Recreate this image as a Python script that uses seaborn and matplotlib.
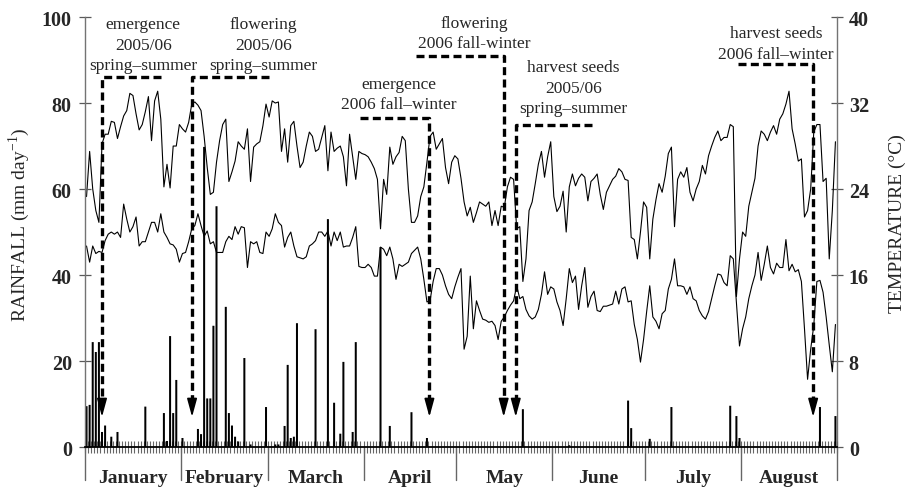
import numpy as np
import pandas as pd
import matplotlib
matplotlib.use('Agg')
import matplotlib.pyplot as plt
import seaborn as sns
from matplotlib.ticker import MultipleLocator

# data
months = ['January', 'February', 'March', 'April', 'May', 'June', 'July', 'August']
month_days = [31, 28, 31, 30, 31, 30, 31, 31]

rain_days = [0, 1, 2, 3, 4, 5, 6, 8, 10, 19, 25, 26, 27, 28, 29, 31, 36, 37, 38, 39,
             40, 41, 42, 45, 46, 47, 48, 49, 51, 53, 58, 61, 62, 64, 65, 66, 67, 68, 74, 78,
             80, 82, 83, 86, 87, 95, 98, 105, 110, 141, 156, 175, 176, 182, 189, 208, 210, 211, 237, 242]
rain_mm = [9.5, 9.8, 24.4, 22.1, 24.4, 3.5, 5.0, 2.4, 3.5, 9.4, 7.9, 1.4, 25.8, 7.9, 15.6, 2.1, 4.2, 3.0, 69.8, 11.3,
           11.3, 28.2, 56.0, 32.6, 7.9, 5.0, 2.4, 1.3, 20.7, 0.6, 9.3, 0.6, 0.6, 4.9, 19.1, 2.1, 2.4, 28.8, 27.4, 53.0,
           10.3, 3.1, 19.8, 3.5, 24.4, 46.5, 4.9, 8.1, 2.1, 8.8, 0.4, 10.8, 4.4, 1.9, 9.3, 9.6, 7.2, 2.1, 9.3, 7.2]

tmax = [23.3, 27.5, 24.0, 22.0, 20.9, 28.2, 29.1, 29.1, 30.3, 30.2,
        28.7, 29.8, 30.8, 31.3, 32.9, 32.7, 31.0, 29.5, 30.0, 31.2,
        32.6, 28.5, 32.2, 33.1, 30.5, 24.2, 26.3, 24.1, 28.0, 28.0,
        30.0, 29.6, 29.3, 30.2, 31.9, 32.1, 31.8, 31.3, 28.9, 26.0,
        23.5, 23.7, 26.5, 28.5, 30.0, 30.5, 24.7, 25.6, 26.6, 28.4,
        28.0, 27.7, 29.6, 24.7, 27.9, 28.2, 28.4, 29.9, 31.9, 30.7,
        32.2, 32.0, 32.1, 27.5, 29.6, 26.5, 29.9, 30.3, 28.0, 26.0,
        26.5, 28.0, 29.3, 28.9, 27.5, 27.7, 28.8, 29.9, 25.7, 29.3,
        27.5, 27.8, 28.0, 27.0, 24.3, 29.1, 27.0, 24.9, 27.5, 27.3,
        27.2, 27.0, 26.5, 25.9, 24.9, 20.3, 24.9, 23.5, 27.9, 26.3,
        27.0, 27.4, 28.9, 28.5, 24.0, 20.9, 20.9, 21.5, 23.3, 24.2,
        26.5, 28.9, 29.3, 27.7, 28.2, 28.7, 26.0, 24.5, 26.5, 27.1,
        26.8, 25.0, 22.8, 21.5, 22.3, 20.9, 21.8, 22.8, 22.6, 22.4,
        22.8, 20.6, 22.0, 20.6, 22.4, 22.3, 24.2, 25.1, 24.9, 20.3,
        20.5, 15.4, 17.5, 22.0, 22.8, 24.5, 26.3, 27.5, 25.1, 27.0,
        28.4, 23.3, 21.9, 22.4, 23.8, 20.0, 24.2, 25.4, 24.3, 25.0,
        25.4, 25.1, 22.9, 24.7, 25.0, 25.4, 23.5, 22.1, 23.7, 24.3,
        24.9, 25.2, 25.9, 25.6, 24.9, 24.8, 19.5, 19.3, 17.5, 20.0,
        22.8, 22.3, 17.5, 21.2, 23.0, 24.5, 23.7, 25.2, 27.3, 27.9,
        20.5, 24.9, 25.6, 25.1, 26.0, 23.7, 22.9, 24.0, 24.7, 26.2,
        25.4, 27.1, 28.0, 28.8, 29.4, 28.5, 28.8, 28.8, 30.0, 29.8,
        14.0, 17.5, 20.0, 19.6, 22.4, 23.7, 25.0, 28.0, 29.4, 29.1,
        28.5, 29.3, 29.9, 29.1, 30.5, 31.0, 31.9, 33.1, 29.6, 28.2,
        26.6, 26.8, 21.4, 22.0, 24.0, 29.3, 30.0, 30.0, 24.7, 25.0,
        17.5, 22.0, 28.4]

tmin = [18.7, 17.2, 18.7, 18.0, 18.2, 18.1, 19.2, 19.8, 20.0, 19.8,
        20.0, 19.5, 22.6, 21.2, 20.0, 20.5, 21.4, 18.7, 19.1, 19.1,
        20.0, 20.9, 20.9, 20.0, 21.7, 20.0, 19.5, 18.9, 18.8, 18.4,
        17.2, 18.0, 18.1, 19.1, 20.3, 20.6, 21.7, 20.6, 19.6, 20.1,
        18.9, 19.1, 18.1, 18.1, 18.1, 19.1, 19.6, 19.3, 20.5, 19.8,
        20.5, 20.4, 16.7, 19.1, 18.9, 19.1, 18.1, 18.0, 20.0, 19.6,
        20.3, 21.7, 20.9, 20.6, 18.6, 19.5, 20.0, 18.7, 17.7, 17.6,
        17.5, 17.7, 18.7, 18.9, 19.2, 20.0, 20.0, 19.6, 20.1, 18.7,
        20.0, 19.2, 20.0, 18.6, 18.7, 18.7, 19.5, 20.5, 16.8, 16.7,
        16.7, 17.0, 16.7, 15.9, 15.9, 18.6, 18.4, 17.8, 18.6, 17.5,
        15.6, 17.0, 16.8, 17.0, 17.2, 18.0, 18.3, 18.6, 17.5, 15.6,
        13.5, 13.6, 15.4, 16.6, 16.6, 16.0, 15.0, 14.2, 13.8, 14.9,
        15.8, 16.6, 9.1, 10.3, 15.9, 11.0, 13.6, 12.7, 11.9, 11.8,
        11.6, 11.7, 11.3, 10.0, 11.7, 12.1, 12.7, 13.2, 13.6, 15.0,
        13.8, 14.0, 12.8, 12.2, 11.9, 12.1, 12.8, 14.2, 16.3, 14.2,
        14.9, 14.7, 13.5, 12.7, 11.3, 13.8, 16.6, 15.3, 15.9, 12.8,
        15.0, 16.7, 13.0, 14.0, 14.5, 12.7, 12.6, 13.1, 13.1, 13.2,
        13.3, 14.5, 13.3, 14.7, 14.9, 13.5, 13.6, 11.4, 10.0, 7.9,
        10.0, 12.6, 15.0, 12.1, 11.7, 11.0, 12.4, 12.7, 14.7, 15.6,
        17.5, 15.0, 15.0, 14.9, 14.2, 14.9, 13.8, 13.6, 12.7, 12.2,
        11.9, 12.6, 13.8, 15.0, 16.1, 16.0, 15.3, 15.0, 17.8, 17.5,
        13.5, 9.4, 11.0, 12.1, 13.8, 15.0, 16.0, 18.1, 15.5, 17.0,
        18.7, 16.7, 16.1, 17.1, 16.7, 16.7, 19.3, 16.4, 17.0, 16.3,
        16.5, 15.4, 11.0, 6.3, 9.1, 11.3, 15.4, 15.5, 14.4, 12.1,
        9.5, 7.0, 11.4]

event_labels = ['emergence\n2005/06\nspring\u2013summer',
                'flowering\n2005/06\nspring\u2013summer',
                'emergence\n2006 fall\u2013winter',
                'flowering\n2006 fall-winter',
                'harvest seeds\n2005/06\nspring\u2013summer',
                'harvest seeds\n2006 fall\u2013winter']
event_days = [5.5, 34.6, 111.3, 135.3, 139.2, 235.3]

# layout of the event markers: other end of the horizontal bar, bar height, text x, text y
event_layout = [(24.6, 86.0, 18.8, 93.6),
                (59.5, 86.0, 57.6, 93.6),
                (89.0, 76.5, 101.3, 82.1),
                (107.1, 90.9, 125.9, 96.3),
                (163.8, 74.9, 157.9, 83.6),
                (211.0, 89.1, 223.3, 93.9)]

n_days = sum(month_days)
rain = np.zeros(n_days)
rain[rain_days] = rain_mm
df = pd.DataFrame({'day': np.arange(n_days) + 0.5, 'rain': rain, 'tmax': tmax, 'tmin': tmin})

sns.set_style('white')
plt.rcParams['font.family'] = ['Liberation Serif', 'DejaVu Serif']
plt.rcParams['mathtext.fontset'] = 'custom'
plt.rcParams['mathtext.rm'] = 'Liberation Serif'

fig = plt.figure(figsize=(9.07, 4.89), dpi=100)
ax = fig.add_axes([0.0937, 0.0838, 0.8291, 0.8793])
ax2 = ax.twinx()

# rainfall bars
sns.barplot(data=df, x='day', y='rain', native_scale=True, color='black', saturation=1,
            width=0.65, errorbar=None, linewidth=0, ax=ax)
for p in ax.patches:
    p.set_snap(False)

# temperature lines
sns.lineplot(data=df, x='day', y='tmax', color='black', lw=0.8, ax=ax2)
sns.lineplot(data=df, x='day', y='tmin', color='black', lw=0.8, ax=ax2)

ax.set_zorder(ax2.get_zorder() + 1)
ax.patch.set_visible(False)

ax.set_xlim(0, n_days)
ax.set_ylim(0, 100)
ax2.set_ylim(0, 40)
ax.set_xlabel('')
ax.set_ylabel('')
ax2.set_ylabel('')

# axes styling
for s in ['top', 'right']:
    ax.spines[s].set_visible(False)
for s in ['top', 'left', 'bottom']:
    ax2.spines[s].set_visible(False)
ax.spines['left'].set_color('0.45')
ax.spines['left'].set_linewidth(1.0)
ax2.spines['right'].set_color('0.45')
ax2.spines['right'].set_linewidth(1.0)
ax.spines['bottom'].set_color('black')
ax.spines['bottom'].set_linewidth(1.3)

ax.set_xticks([])
ax.xaxis.set_minor_locator(MultipleLocator(1))
ax.tick_params(axis='x', which='minor', direction='inout', length=8, width=0.8,
               color='0.4', bottom=True)

ax.set_yticks([0, 20, 40, 60, 80, 100])
ax2.set_yticks([0, 8, 16, 24, 32, 40])
ax.tick_params(axis='y', direction='inout', length=9, width=0.9, color='0.35',
               labelsize=14.5, pad=5, left=True)
ax2.tick_params(axis='y', direction='inout', length=9, width=0.9, color='0.35',
                labelsize=14.5, pad=4, right=True)
for lbl in ax.get_yticklabels() + ax2.get_yticklabels():
    lbl.set_fontweight('bold')

# month separators and names
edges = np.concatenate([[0], np.cumsum(month_days)])
for e in edges:
    ax.plot([e, e], [0, -7.6], color='0.4', lw=1.0, clip_on=False)
for i, name in enumerate(months):
    ax.text((edges[i] + edges[i + 1]) / 2, -7.2, name, ha='center', va='center',
            fontsize=14, fontweight='bold', clip_on=False)

# events: dashed bracket with arrow down to the axis
tip = 7.0
for label, d, (hx, hy, tx, ty) in zip(event_labels, event_days, event_layout):
    ax.plot([hx, d, d], [hy, hy, tip + 3.6], color='black', lw=2.4,
            linestyle=(0, (2.4, 1.3)), clip_on=False)
    ax.annotate('', xy=(d, tip), xytext=(d, tip + 3.9),
                arrowprops=dict(arrowstyle='-|>,head_length=1.1,head_width=0.3',
                                color='black', lw=1.2, mutation_scale=10,
                                shrinkA=0, shrinkB=0))
    ax.text(tx, ty, label, ha='center', va='center', fontsize=12.5, linespacing=1.38)

fig.text(19 / 907, 1 - 225 / 489, 'RAINFALL (mm day$^{\\mathregular{-1}}$)', rotation=90,
         ha='center', va='center', fontsize=14)
fig.text(897 / 907, 1 - 224 / 489, 'TEMPERATURE (\u00b0C)', rotation=90,
         ha='center', va='center', fontsize=14)

fig.savefig('out.png', dpi=100, facecolor='white')
